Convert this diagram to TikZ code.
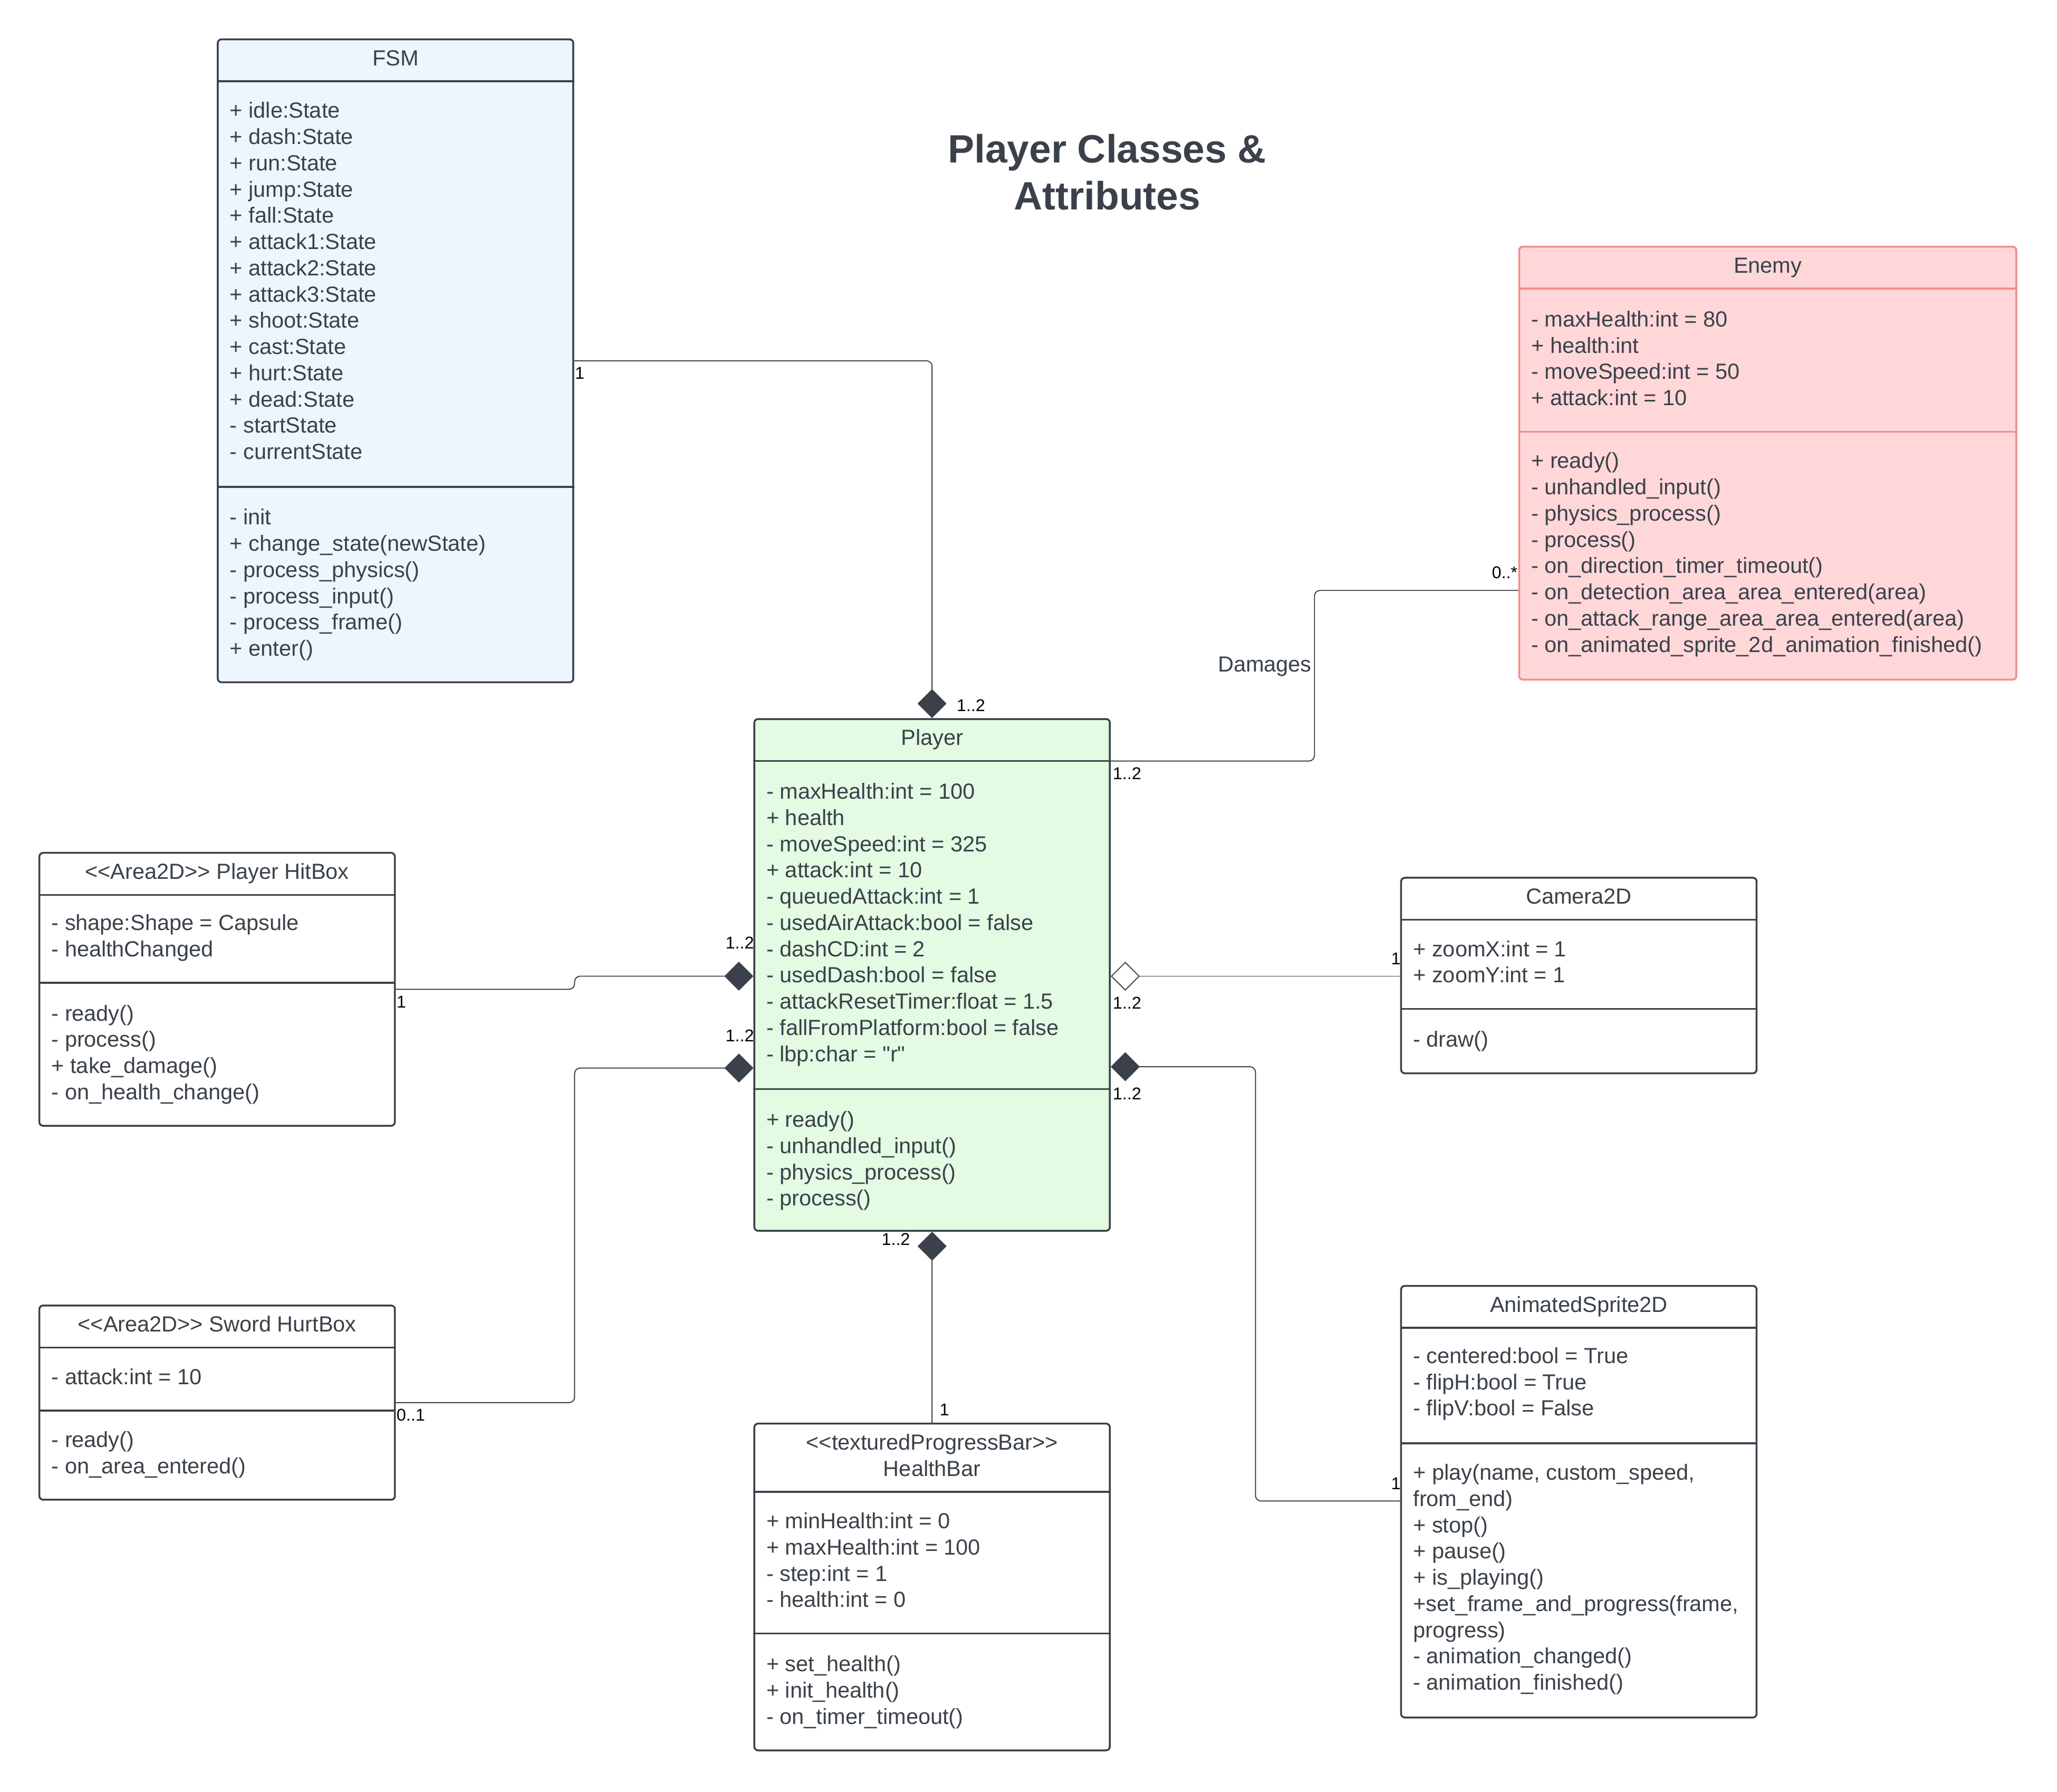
\documentclass[tikz,border=0pt]{standalone}
\usepackage{fontspec}
\newfontfamily\umlfont{Liberation Sans}
\usetikzlibrary{arrows.meta,fit}

\definecolor{umltext}{HTML}{3A414A}
\definecolor{fsmfill}{HTML}{EDF5FF}
\definecolor{playerfill}{HTML}{E3FAE3}
\definecolor{enemyfill}{HTML}{FFD7D9}
\definecolor{enemyline}{HTML}{F28B8B}

\tikzset{
  classbox/.style={draw=umltext, line width=1pt, rounded corners=2pt, inner sep=0pt},
  classline/.style={draw=umltext, line width=1pt},
  member/.style={anchor=base west, inner sep=0pt, text=umltext, font=\umlfont\fontsize{11.8}{14}\selectfont},
  header/.style={member, anchor=base},
  mult/.style={inner sep=0pt, text=black, font=\umlfont\fontsize{9.2}{10}\selectfont},
  link/.style={draw=umltext, line width=0.55pt, rounded corners=3pt},
  comp/.style={link, -{Diamond[length=5.5mm,width=5.5mm]}},
  aggr/.style={link, -{Diamond[open,length=5.5mm,width=5.5mm]}},
}

\begin{document}
\begin{tikzpicture}[x=0.024872cm, y=-0.024872cm]
    \useasboundingbox (0,0) rectangle (1568,1365.4);

    % title
    \node[text=umltext, inner sep=0pt, anchor=base, font=\umlfont\bfseries\fontsize{21.3}{25.5}\selectfont] (title1) at (844,124) {Player Classes \&};
    \node[text=umltext, inner sep=0pt, anchor=base, font=\umlfont\bfseries\fontsize{21.3}{25.5}\selectfont] (title2) at (844,160) {Attributes};

    % class boxes
    \node[classbox, fill=fsmfill, fit={(166,30) (437,520)}] (fsm) {};
    \node[classbox, fill=playerfill, fit={(575,548) (846,938)}] (player) {};
    \node[classbox, draw=enemyline, fill=enemyfill, fit={(1158,188) (1537,518)}] (enemy) {};
    \node[classbox, fill=white, fit={(30,650) (301,858)}] (hitbox) {};
    \node[classbox, fill=white, fit={(30,995) (301,1143)}] (hurtbox) {};
    \node[classbox, fill=white, fit={(575,1085) (846,1334)}] (healthbar) {};
    \node[classbox, fill=white, fit={(1068,669) (1339,818)}] (camera) {};
    \node[classbox, fill=white, fit={(1068,980) (1339,1309)}] (sprite) {};

    % compartments
    \draw[classline] (fsm.west |- 0,62) -- (fsm.east |- 0,62);
    \draw[classline] (fsm.west |- 0,371) -- (fsm.east |- 0,371);
    \draw[classline] (player.west |- 0,580) -- (player.east |- 0,580);
    \draw[classline] (player.west |- 0,830) -- (player.east |- 0,830);
    \draw[classline, draw=enemyline] (enemy.west |- 0,220) -- (enemy.east |- 0,220);
    \draw[classline, draw=enemyline] (enemy.west |- 0,329) -- (enemy.east |- 0,329);
    \draw[classline] (hitbox.west |- 0,682) -- (hitbox.east |- 0,682);
    \draw[classline] (hitbox.west |- 0,749) -- (hitbox.east |- 0,749);
    \draw[classline] (hurtbox.west |- 0,1027) -- (hurtbox.east |- 0,1027);
    \draw[classline] (hurtbox.west |- 0,1075) -- (hurtbox.east |- 0,1075);
    \draw[classline] (healthbar.west |- 0,1137) -- (healthbar.east |- 0,1137);
    \draw[classline] (healthbar.west |- 0,1245) -- (healthbar.east |- 0,1245);
    \draw[classline] (camera.west |- 0,701) -- (camera.east |- 0,701);
    \draw[classline] (camera.west |- 0,769) -- (camera.east |- 0,769);
    \draw[classline] (sprite.west |- 0,1012) -- (sprite.east |- 0,1012);
    \draw[classline] (sprite.west |- 0,1100) -- (sprite.east |- 0,1100);

    % FSM
    \node[header] (fsmH) at (301.5,50) {FSM};
    \foreach \t [count=\i] in {+ idle:State, + dash:State, + run:State, + jump:State, + fall:State,
        + attack1:State, + attack2:State, + attack3:State, + shoot:State, + cast:State,
        + hurt:State, + dead:State, - startState, - currentState}
      \node[member] (fsmA\i) at (175,70+20*\i) {\t};
    \foreach \t [count=\i] in {- init, + change\_state(newState), - process\_physics(),
        - process\_input(), - process\_frame(), + enter()}
      \node[member] (fsmM\i) at (175,380+20*\i) {\t};

    % Player
    \node[header] (playerH) at (710.5,568) {Player};
    \foreach \t [count=\i] in {- maxHealth:int = 100, + health, - moveSpeed:int = 325,
        + attack:int = 10, - queuedAttack:int = 1, - usedAirAttack:bool = false,
        - dashCD:int = 2, - usedDash:bool = false, - attackResetTimer:float = 1.5,
        - fallFromPlatform:bool = false, - lbp:char = "r"}
      \node[member] (playerA\i) at (584,589+20*\i) {\t};
    \foreach \t [count=\i] in {+ ready(), - unhandled\_input(), - physics\_process(), - process()}
      \node[member] (playerM\i) at (584,839+20*\i) {\t};

    % Enemy
    \node[header] (enemyH) at (1347.5,208) {Enemy};
    \foreach \t [count=\i] in {- maxHealth:int = 80, + health:int, - moveSpeed:int = 50, + attack:int = 10}
      \node[member] (enemyA\i) at (1167,229+20*\i) {\t};
    \foreach \t [count=\i] in {+ ready(), - unhandled\_input(), - physics\_process(), - process(),
        - on\_direction\_timer\_timeout(), - on\_detection\_area\_area\_entered(area),
        - on\_attack\_range\_area\_area\_entered(area), - on\_animated\_sprite\_2d\_animation\_finished()}
      \node[member] (enemyM\i) at (1167,337+20*\i) {\t};

    % Player HitBox
    \node[header] (hitboxH) at (165.5,670) {<<Area2D>> Player HitBox};
    \foreach \t [count=\i] in {- shape:Shape = Capsule, - healthChanged}
      \node[member] (hitboxA\i) at (39,689+20*\i) {\t};
    \foreach \t [count=\i] in {- ready(), - process(), + take\_damage(), - on\_health\_change()}
      \node[member] (hitboxM\i) at (39,758+20*\i) {\t};

    % Sword HurtBox
    \node[header] (hurtboxH) at (165.5,1015) {<<Area2D>> Sword HurtBox};
    \node[member] (hurtboxA1) at (39,1055) {- attack:int = 10};
    \foreach \t [count=\i] in {- ready(), - on\_area\_entered()}
      \node[member] (hurtboxM\i) at (39,1083+20*\i) {\t};

    % HealthBar
    \node[header] (healthbarH1) at (710.5,1105) {<<texturedProgressBar>>};
    \node[header] (healthbarH2) at (710.5,1125) {HealthBar};
    \foreach \t [count=\i] in {+ minHealth:int = 0, + maxHealth:int = 100, - step:int = 1, - health:int = 0}
      \node[member] (healthbarA\i) at (584,1145+20*\i) {\t};
    \foreach \t [count=\i] in {+ set\_health(), + init\_health(), - on\_timer\_timeout()}
      \node[member] (healthbarM\i) at (584,1254+20*\i) {\t};

    % Camera2D
    \node[header] (cameraH) at (1203.5,689) {Camera2D};
    \foreach \t [count=\i] in {+ zoomX:int = 1, + zoomY:int = 1}
      \node[member] (cameraA\i) at (1077,709+20*\i) {\t};
    \node[member] (cameraM1) at (1077,798) {- draw()};

    % AnimatedSprite2D
    \node[header] (spriteH) at (1203.5,1000) {AnimatedSprite2D};
    \foreach \t [count=\i] in {- centered:bool = True, - flipH:bool = True, - flipV:bool = False}
      \node[member] (spriteA\i) at (1077,1019+20*\i) {\t};
    \foreach \t [count=\i] in {{+ play(name, custom\_speed,}, from\_end), + stop(), + pause(), + is\_playing(),
        {+set\_frame\_and\_progress(frame,}, progress), - animation\_changed(), - animation\_finished()}
      \node[member] (spriteM\i) at (1077,1108+20*\i) {\t};

    % connectors
    \draw[comp] (fsm.east |- 0,275) -| (player.north);
    \draw[link] (player.east |- 0,580) -| (1002,450) -- (enemy.west |- 0,450);
    \draw[comp] (hitbox.east |- 0,754) -- (438,754) -- (438,744) -- (player.west |- 0,744);
    \draw[comp] (hurtbox.east |- 0,1069) -| (438,814) -- (player.west |- 0,814);
    \draw[aggr] (camera.west |- 0,744) -- (player.east |- 0,744);
    \draw[comp] (sprite.west |- 0,1144) -| (957,813) -- (player.east |- 0,813);
    \draw[comp] (healthbar.north) -- (player.south);

    % multiplicities
    \node[mult, anchor=base west] (m1) at (438,289) {1};
    \node[mult, anchor=base west] (m2) at (729,542) {1..2};
    \node[mult, anchor=base west] (m3) at (848,594) {1..2};
    \node[mult, anchor=base east] (m4) at (1157,441) {0..*};
    \node[member, anchor=base east] (damages) at (1000,512) {Damages};
    \node[mult, anchor=base east] (m5) at (575,723) {1..2};
    \node[mult, anchor=base west] (m6) at (302,768) {1};
    \node[mult, anchor=base east] (m7) at (575,794) {1..2};
    \node[mult, anchor=base west] (m8) at (302,1083) {0..1};
    \node[mult, anchor=base west] (m9) at (848,769) {1..2};
    \node[mult, anchor=base east] (m10) at (1068,735) {1};
    \node[mult, anchor=base west] (m11) at (848,838) {1..2};
    \node[mult, anchor=base east] (m12) at (1068,1135) {1};
    \node[mult, anchor=base east] (m13) at (694,949) {1..2};
    \node[mult, anchor=base west] (m14) at (716,1079) {1};
\end{tikzpicture}
\end{document}
